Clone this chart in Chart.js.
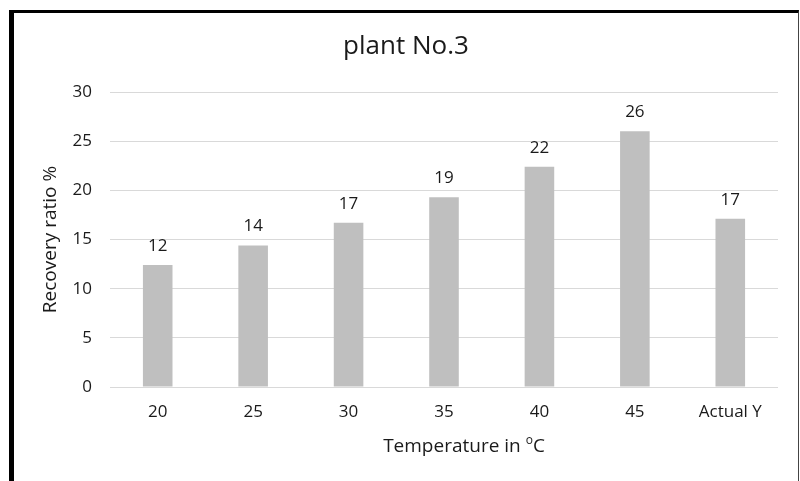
<!DOCTYPE html>
<html>
<head>
<meta charset="utf-8">
<script src="https://cdn.jsdelivr.net/npm/chart.js@4/dist/chart.umd.min.js"></script>
<style>
  html, body { margin: 0; padding: 0; background: #fff; }
  #wrap { position: relative; width: 800px; height: 481px; }
  #frame {
    position: absolute; left: 9px; top: 10px; width: 784px; height: 471px;
    border-left: 5px solid #000; border-top: 3px solid #000; border-right: 1px solid #444;
    pointer-events: none;
  }
</style>
</head>
<body>
<div id="wrap">
  <canvas id="barChart" width="800" height="481"></canvas>
  <div id="frame"></div>
</div>
<script>
// plant No.3 recovery ratio by temperature
const chartTitle = 'plant No.3';
const categories = ['20', '25', '30', '35', '40', '45', 'Actual Y'];
const recovery = [12.4, 14.4, 16.7, 19.3, 22.4, 26.0, 17.1];
const yTicks = [0, 5, 10, 15, 20, 25, 30];

const FONT = '"Open Sans", "Noto Sans", sans-serif';
const TEXT = '#1a1a1a';

// value labels above the bars, shown as whole numbers like the original
const barLabels = {
    id: 'barLabels',
    afterDatasetsDraw(chart) {
        const ctx = chart.ctx;
        const meta = chart.getDatasetMeta(0);
        ctx.save();
        ctx.font = '17px ' + FONT;
        ctx.fillStyle = TEXT;
        ctx.textAlign = 'center';
        ctx.textBaseline = 'middle';
        meta.data.forEach((bar, i) => {
            ctx.fillText(Math.round(recovery[i]), bar.x, bar.y - 19);
        });
        ctx.restore();
    }
};

// chart title + x axis title (with the superscript "o"), both sit a bit right of the plot centre
const titles = {
    id: 'titles',
    afterDraw(chart) {
        const ctx = chart.ctx;
        const a = chart.chartArea;
        ctx.save();
        ctx.fillStyle = TEXT;

        ctx.font = '26px ' + FONT;
        ctx.textAlign = 'center';
        ctx.textBaseline = 'middle';
        ctx.fillText(chartTitle, 406, 47);

        ctx.textAlign = 'left';
        ctx.textBaseline = 'alphabetic';
        const part1 = 'Temperature in ';
        const sup = 'o';
        const part2 = 'C';
        ctx.font = '19px ' + FONT;
        const w1 = ctx.measureText(part1).width;
        const w3 = ctx.measureText(part2).width;
        ctx.font = '12px ' + FONT;
        const w2 = ctx.measureText(sup).width;
        const total = w1 + w2 + w3;
        let x = (a.left + a.right) / 2 + 20 - total / 2;
        const base = 452;
        ctx.font = '19px ' + FONT;
        ctx.fillText(part1, x, base);
        x += w1;
        ctx.font = '12px ' + FONT;
        ctx.fillText(sup, x, base - 8);
        x += w2;
        ctx.font = '19px ' + FONT;
        ctx.fillText(part2, x, base);
        ctx.restore();
    }
};

const ctx = document.getElementById('barChart').getContext('2d');
const barChart = new Chart(ctx, {
    type: 'bar',
    data: {
        labels: categories,
        datasets: [{
            label: 'Recovery ratio %',
            data: recovery,
            backgroundColor: '#bfbfbf',
            borderWidth: 0,
            categoryPercentage: 1,
            barPercentage: 0.31
        }]
    },
    options: {
        responsive: false,
        animation: false,
        layout: {
            padding: { left: 14, right: 22, top: 92, bottom: 0 }
        },
        plugins: {
            legend: { display: false },
            tooltip: { enabled: false },
            title: { display: false }
        },
        scales: {
            x: {
                grid: { display: false, drawTicks: false },
                border: { display: false },
                ticks: {
                    color: TEXT,
                    font: { family: FONT, size: 17 },
                    padding: 15,
                    maxRotation: 0
                },
                afterFit(scale) { scale.height = 94; }
            },
            y: {
                min: 0,
                max: 30,
                afterBuildTicks(scale) {
                    scale.ticks = yTicks.map(v => ({ value: v }));
                },
                grid: { color: '#d9d9d9', lineWidth: 1, drawTicks: false },
                border: { display: false },
                ticks: {
                    color: TEXT,
                    font: { family: FONT, size: 17 },
                    padding: 18
                },
                title: {
                    display: true,
                    text: 'Recovery ratio %',
                    color: TEXT,
                    font: { family: FONT, size: 19 },
                    padding: { top: 25, bottom: 0 }
                },
                afterFit(scale) { scale.width = 96; }
            }
        }
    },
    plugins: [barLabels, titles]
});
</script>
</body>
</html>
